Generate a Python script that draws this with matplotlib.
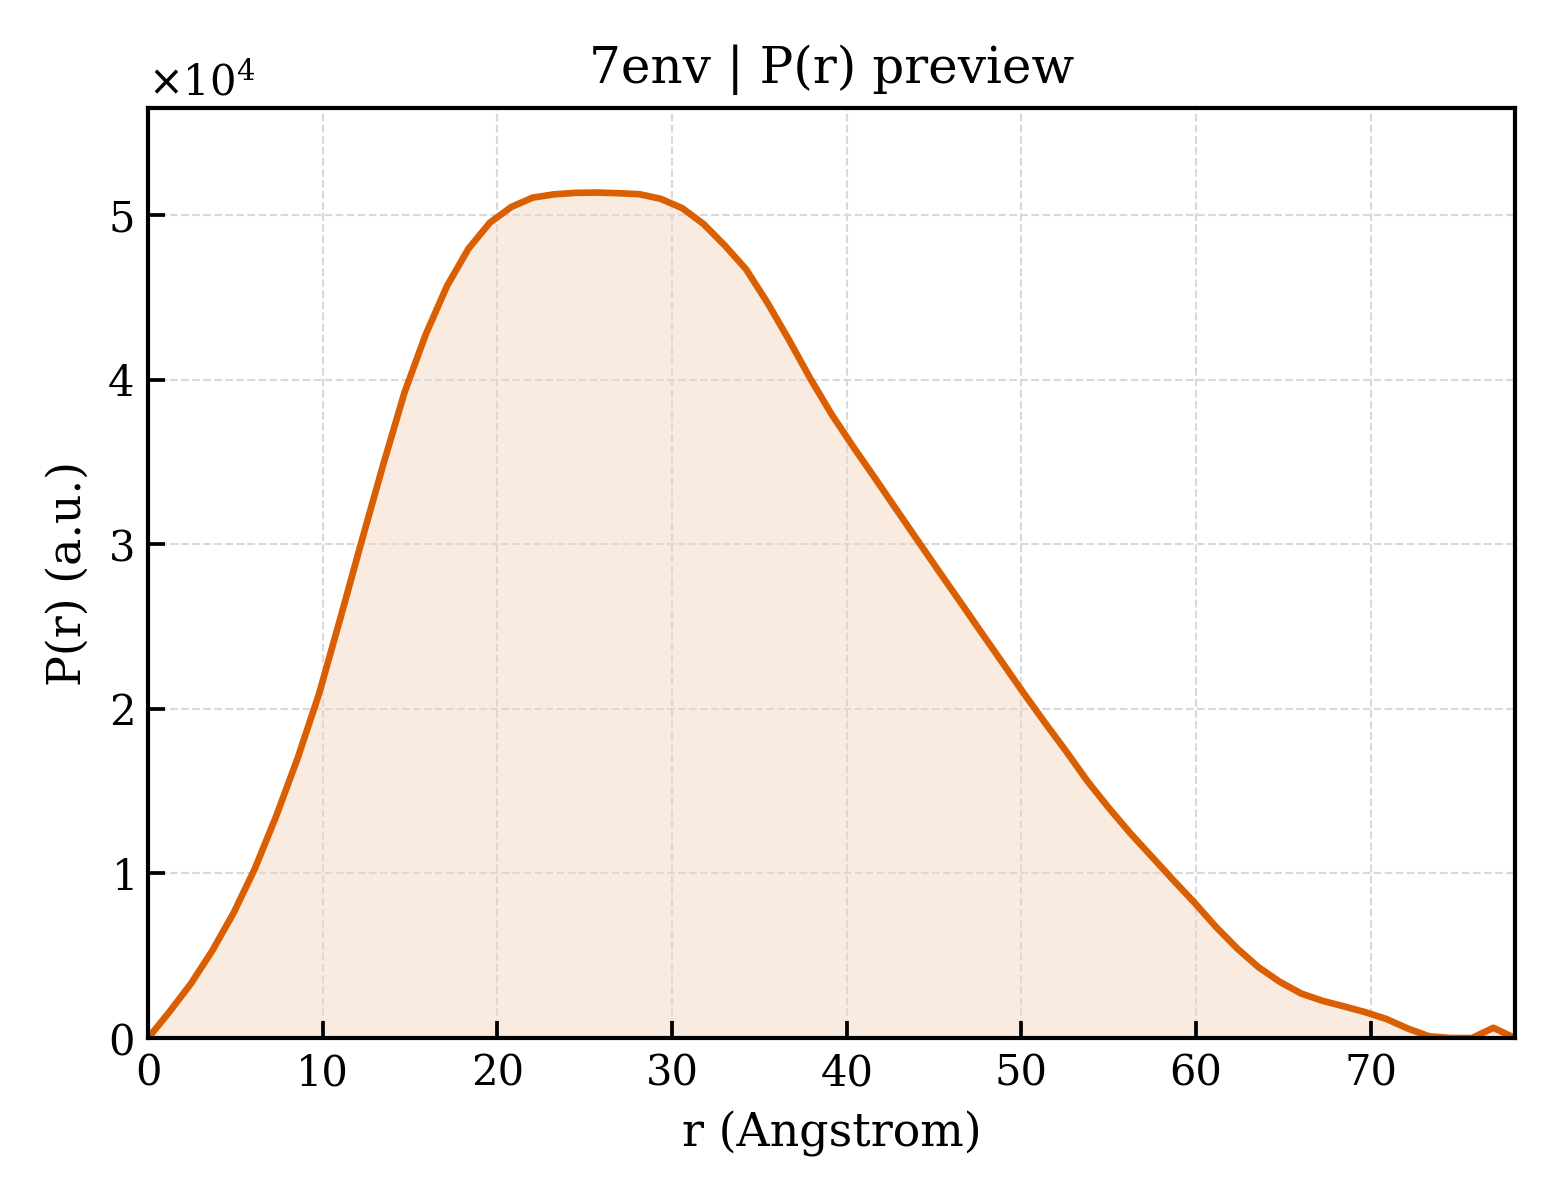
"""P(r) preview for 7env: pair distance distribution with shaded area."""
import matplotlib
import numpy as np

matplotlib.use("Agg")
import matplotlib.pyplot as plt

R_MAX = 78.25
PR = [0, 1600, 3300, 5300, 7600, 10300, 13500, 17000, 20900, 25500,
      30200, 34800, 39200, 42750, 45700, 47950, 49530, 50480, 51050, 51250,
      51340, 51360, 51320, 51260, 50980, 50420, 49460, 48150, 46700, 44670,
      42430, 40080, 37900, 35950, 34080, 32180, 30290, 28410, 26550, 24670,
      22810, 20950, 19150, 17400, 15580, 13960, 12430, 11020, 9600, 8220,
      6760, 5440, 4300, 3410, 2700, 2260, 1920, 1570, 1150, 570,
      100, 0, 0, 620, 0]
COLOR = "#d95f02"


def main() -> None:
    plt.rcParams["font.family"] = ["DejaVu Serif"]
    pr = np.array(PR, float)
    r = np.linspace(0, R_MAX, len(pr))

    fig = plt.figure(figsize=(5.2, 4), dpi=300)
    ax = fig.add_axes([0.095, 0.135, 0.876, 0.775])
    ax.fill_between(r, pr, 0, color=COLOR, alpha=0.12, linewidth=0)
    ax.plot(r, pr, color=COLOR, linewidth=1.6)
    ax.set_xlim(0, R_MAX)
    ax.set_ylim(0, pr.max()*1.1)
    ax.ticklabel_format(axis="y", style="sci", scilimits=(0, 0), useMathText=True)
    ax.grid(True, linestyle="--", linewidth=0.5, color="0.85")
    ax.tick_params(direction="in", length=4, width=0.9, labelsize=10)
    for spine in ax.spines.values():
        spine.set_linewidth(1.0)
    ax.yaxis.get_offset_text().set_fontsize(10)
    ax.set_xlabel("r (Angstrom)", fontsize=11)
    ax.set_ylabel("P(r) (a.u.)", fontsize=11)
    ax.set_title("7env | P(r) preview", fontsize=12)
    fig.savefig("out.png", dpi=300)
    plt.close(fig)


if __name__ == "__main__":
    main()
